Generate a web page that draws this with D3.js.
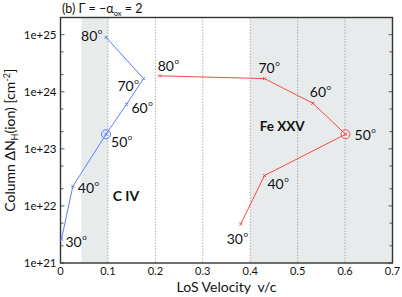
<!DOCTYPE html>
<html lang="en">
<head>
<meta charset="utf-8">
<title>Column vs LoS velocity</title>
<script src="https://d3js.org/d3.v7.min.js"></script>
<style>
  body { margin: 0; background: #fff; }
  text { font-family: Lato, "Open Sans", sans-serif; fill: #111; }
</style>
</head>
<body>
<div id="chart"></div>
<script>
// angles (deg) for both ions
const angles = [30, 40, 50, 60, 70, 80];

// C IV: LoS velocity (v/c) and column (cm^-2)
const civVel = [0.002, 0.026, 0.096, 0.139, 0.175, 0.096];
const civCol = [2.6e21, 2.2e22, 1.8e23, 6.0e23, 1.7e24, 9.0e24];

// Fe XXV
const feVel = [0.380, 0.430, 0.601, 0.532, 0.430, 0.209];
const feCol = [4.8e21, 3.4e22, 1.8e23, 6.3e23, 1.7e24, 1.9e24];

// shaded velocity ranges
const bands = [[0.044, 0.1], [0.4, 0.7]];

const xTicks = [0, 0.1, 0.2, 0.3, 0.4, 0.5, 0.6, 0.7];
const gridTicks = [0.1, 0.2, 0.3, 0.4, 0.5, 0.6];
const yTicks = [1e21, 1e22, 1e23, 1e24, 1e25];
const yTickLabels = ["1e+21", "1e+22", "1e+23", "1e+24", "1e+25"];

// label offsets (px) from each point, same order as angles
const civLab = [[4, 8], [5, 7], [5, 13], [5, 9], [-26, 12], [-25, 4]];
const feLab = [[-14, 20], [3, 13], [9, 6], [-3, -6], [-6, -6], [-2, -5]];

const W = 402, H = 297;
const margin = {top: 17.5, right: 9.5, bottom: 34, left: 60.5};
const width = W - margin.left - margin.right,
      height = H - margin.top - margin.bottom;

const svg = d3.select("#chart").append("svg")
  .attr("width", W).attr("height", H);
const g = svg.append("g")
  .attr("transform", "translate(" + margin.left + "," + margin.top + ")");

const x = d3.scaleLinear().domain([0, 0.7]).range([0, width]);
const y = d3.scaleLog().domain([1e21, 2e25]).range([height, 0]);

// bands
g.selectAll(".band").data(bands).join("rect")
  .attr("x", d => x(d[0])).attr("width", d => x(d[1]) - x(d[0]))
  .attr("y", 0).attr("height", height)
  .attr("fill", "#e8ebec");

// dotted grid
g.selectAll(".grid").data(gridTicks).join("line")
  .attr("x1", d => x(d)).attr("x2", d => x(d))
  .attr("y1", 0).attr("y2", height)
  .attr("stroke", "#9a9a9a").attr("stroke-width", 0.8)
  .attr("stroke-dasharray", "1.5,1.5");

// minor ticks at 2 and 5 of each decade
const minor = [];
for (let e = 21; e <= 25; e++) {
  [2, 5].forEach(m => { if (m * Math.pow(10, e) <= 2e25) minor.push(m * Math.pow(10, e)); });
}
const yAll = yTicks.map(v => ({v: v, len: 4})).concat(minor.map(v => ({v: v, len: 3})));
[0, width].forEach(side => {
  g.selectAll(null).data(yAll).join("line")
    .attr("x1", side).attr("x2", side === 0 ? d => d.len : d => width - d.len)
    .attr("y1", d => y(d.v)).attr("y2", d => y(d.v))
    .attr("stroke", "#333").attr("stroke-width", 0.8);
});

// x tick labels
g.selectAll(".xl").data(xTicks).join("text")
  .attr("x", d => x(d)).attr("y", height + 11.5)
  .attr("text-anchor", "middle").style("font-size", "11px")
  .text(d => d === 0 ? "0" : d3.format(".1f")(d));

// y tick labels
g.selectAll(".yl").data(yTicks).join("text")
  .attr("x", -4).attr("y", d => y(d) + 4)
  .attr("text-anchor", "end").style("font-size", "11.5px")
  .text((d, i) => yTickLabels[i]);

// frame
g.append("rect").attr("width", width).attr("height", height)
  .attr("fill", "none").attr("stroke", "#333").attr("stroke-width", 1.4);

function drawSeries(vel, col, lab, color) {
  const pts = angles.map((a, i) => ({a: a, v: vel[i], c: col[i], o: lab[i]}));
  const line = d3.line().x(d => x(d.v)).y(d => y(d.c));
  g.append("path").datum(pts).attr("d", line)
    .attr("fill", "none").attr("stroke", color).attr("stroke-width", 1);
  g.selectAll(null).data(pts).join("path")
    .attr("transform", d => "translate(" + x(d.v) + "," + y(d.c) + ")")
    .attr("d", "M-1.5,-1.5L1.5,1.5M-1.5,1.5L1.5,-1.5")
    .attr("stroke", color).attr("stroke-width", 1);
  g.selectAll(null).data(pts.filter(d => d.a === 50)).join("circle")
    .attr("cx", d => x(d.v)).attr("cy", d => y(d.c)).attr("r", 4.5)
    .attr("fill", "none").attr("stroke", color).attr("stroke-width", 1);
  const t = g.selectAll(null).data(pts).join("text")
    .attr("x", d => x(d.v) + d.o[0]).attr("y", d => y(d.c) + d.o[1])
    .style("font-size", "14px");
  t.append("tspan").text(d => d.a);
  t.append("tspan").attr("dy", -7).attr("dx", 0.5).style("font-size", "8px").text("o");
}
drawSeries(civVel, civCol, civLab, "#5a7dff");
drawSeries(feVel, feCol, feLab, "#ff4646");

// ion labels
g.append("text").attr("x", x(0.11)).attr("y", y(1.2e22) - 0.5)
  .style("font-size", "14px").style("font-weight", "bold").text("C IV");
g.append("text").attr("x", x(0.42)).attr("y", y(2e23) - 0.5)
  .style("font-size", "13.5px").style("font-weight", "bold").text("Fe XXV");

// title
const title = svg.append("text").attr("x", 62).attr("y", 13).style("font-size", "12.5px");
title.append("tspan").text("(b) Γ = −α");
title.append("tspan").attr("dy", 3).style("font-size", "7.5px").text("ox");
title.append("tspan").attr("dy", -3).text(" = 2");

// axis titles
svg.append("text").attr("x", margin.left + width / 2).attr("y", 292)
  .attr("text-anchor", "middle").style("font-size", "14px")
  .text("LoS Velocity\u00a0\u00a0v/c");

const yl = svg.append("text")
  .attr("transform", "translate(15," + (margin.top + height / 2) + ") rotate(-90)")
  .attr("text-anchor", "middle").style("font-size", "14px");
yl.append("tspan").text("Column ΔN");
yl.append("tspan").attr("dy", 3).style("font-size", "9px").text("H");
yl.append("tspan").attr("dy", -3).text("(ion) [cm");
yl.append("tspan").attr("dy", -5).style("font-size", "9px").text("-2");
yl.append("tspan").attr("dy", 5).text("]");
</script>
</body>
</html>
